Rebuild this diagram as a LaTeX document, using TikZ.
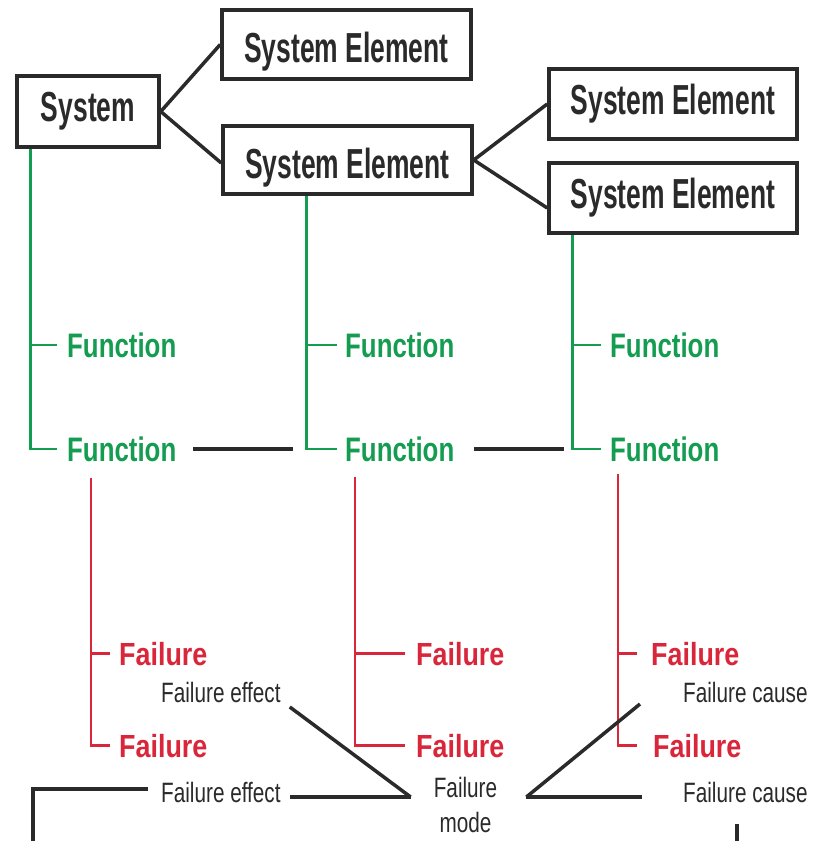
\documentclass[tikz,border=0pt]{standalone}
\usepackage{fontspec}
\setmainfont{Liberation Sans}
% condensed faces for the different label kinds
\newfontfamily\boxfont[FakeStretch=0.63]{Liberation Sans}
\newfontfamily\funcfont[FakeStretch=0.76]{Liberation Sans}
\newfontfamily\failfont[FakeStretch=0.84]{Liberation Sans}
\newfontfamily\notefont[FakeStretch=0.74]{Liberation Sans}
\usetikzlibrary{calc}
\definecolor{fngreen}{RGB}{20,156,80}
\definecolor{flred}{RGB}{218,38,58}
\definecolor{ink}{RGB}{42,42,42}
\tikzset{
  elem/.style={draw=ink, line width=3.5pt, minimum width=249pt, minimum height=69pt,
    inner sep=0pt, text=ink, font=\boxfont\bfseries\fontsize{42}{48}\selectfont},
  func/.style={text=fngreen, anchor=base west, inner sep=0pt,
    font=\funcfont\bfseries\fontsize{34}{40}\selectfont},
  fail/.style={text=flred, anchor=base west, inner sep=0pt,
    font=\failfont\bfseries\fontsize{32}{38}\selectfont},
  note/.style={text=ink, anchor=base west, inner sep=0pt,
    font=\notefont\fontsize{28}{35}\selectfont},
  link/.style={draw=ink, line width=3.5pt},
  gtree/.style={draw=fngreen, line width=2.6pt},
  rtree/.style={draw=flred, line width=2.6pt}
}
\begin{document}
\begin{tikzpicture}[x=1pt,y=-1pt]
\useasboundingbox (0,0) rectangle (812,841);

% structure tree
\node[elem, minimum width=142pt, minimum height=71pt] (sys) at (88,111.5) {System};
\node[elem, text height=45pt, text depth=9pt] (se1) at (346.5,44.5) {System Element};
\node[elem, text height=45pt, text depth=9pt, minimum height=68pt] (se2) at (347.5,160) {System Element};
\node[elem, minimum width=248pt, minimum height=70pt] (se3) at (673,104) {System Element};
\node[elem, minimum width=248pt, minimum height=70pt] (se4) at (673,198) {System Element};

\draw[link] (sys.east) -- (se1.west);
\draw[link] (sys.east) -- ([yshift=-3pt]se2.west);
\draw[link] (se2.east) -- (se3.west);
\draw[link] (se2.east) -- ([yshift=-10pt]se4.west);

% functions
\node[func] (f11) at (67,357) {Function};
\node[func] (f12) at (67,461) {Function};
\node[func] (f21) at (345,357) {Function};
\node[func] (f22) at (345,461) {Function};
\node[func] (f31) at (610,357) {Function};
\node[func] (f32) at (610,461) {Function};

\coordinate (g1) at ([xshift=15pt]sys.south west);
\coordinate (g2) at ([xshift=85pt]se2.south west);
\coordinate (g3) at ([xshift=25pt]se4.south west);
\draw[gtree] (g1) |- ([xshift=-10pt]f12.west);
\draw[gtree] (g1 |- f11.west) -- ([xshift=-10pt]f11.west);
\draw[gtree] (g2) |- ([xshift=-8pt]f22.west);
\draw[gtree] (g2 |- f21.west) -- ([xshift=-8pt]f21.west);
\draw[gtree] (g3) |- ([xshift=-9pt]f32.west);
\draw[gtree] (g3 |- f31.west) -- ([xshift=-9pt]f31.west);

\draw[link, line width=4pt] ([xshift=17pt]f12.east) -- ([xshift=-52pt]f22.west);
\draw[link, line width=4pt] ([xshift=20pt]f22.east) -- ([xshift=-46pt]f32.west);

% failures
\node[fail] (a11) at (119,665) {Failure};
\node[fail] (a12) at (119,757) {Failure};
\node[fail] (a21) at (416,665) {Failure};
\node[fail] (a22) at (416,757) {Failure};
\node[fail] (a31) at (651,665) {Failure};
\node[fail] (a32) at (653,757) {Failure};

\coordinate (r1) at ([shift={(24pt,-16pt)}]f12.south west);
\coordinate (r2) at ([shift={(10pt,-15pt)}]f22.south west);
\coordinate (r3) at ([shift={(8pt,-12pt)}]f32.south west);
\draw[rtree] (r1) |- ([xshift=-9pt]a12.west);
\draw[rtree] (r1 |- a11.west) -- ([xshift=-9pt]a11.west);
\draw[rtree] (r2) |- ([xshift=-11pt]a22.west);
\draw[rtree] (r2 |- a21.west) -- ([xshift=-11pt]a21.west);
\draw[rtree] (r3) |- ([xshift=-16pt]a32.west);
\draw[rtree] (r3 |- a31.west) -- ([xshift=-14pt]a31.west);

% failure net
\node[note] (fe1) at (161,702) {Failure effect};
\node[note] (fe2) at (161,802) {Failure effect};
\node[note] (fc1) at (683,702) {Failure cause};
\node[note] (fc2) at (683,802) {Failure cause};
\node[note, anchor=north, align=center] (fm) at (465.5,777) {Failure\\mode};

\coordinate (mL) at ([shift={(-23pt,-20pt)}]fm.north west);
\coordinate (mR) at ([shift={(29pt,-20pt)}]fm.north east);
\coordinate (ebot) at (33,843);
\coordinate (cbot) at ([xshift=54pt]fc2.base west |- 0,843);

\draw[link] ([shift={(9pt,-5pt)}]fe1.base east) -- (mL);
\draw[link] ([shift={(9pt,5pt)}]fe2.base east) -- (mL);
\draw[link] ([shift={(-13pt,13pt)}]fe2.base west) -| (ebot);
\draw[link] (mR) -- ([shift={(-43pt,-2pt)}]fc1.base west);
\draw[link] (mR) -- ([shift={(-41pt,5pt)}]fc2.base west);
\draw[link] ([shift={(54pt,-22pt)}]fc2.base west) -- (cbot);
\end{tikzpicture}
\end{document}
